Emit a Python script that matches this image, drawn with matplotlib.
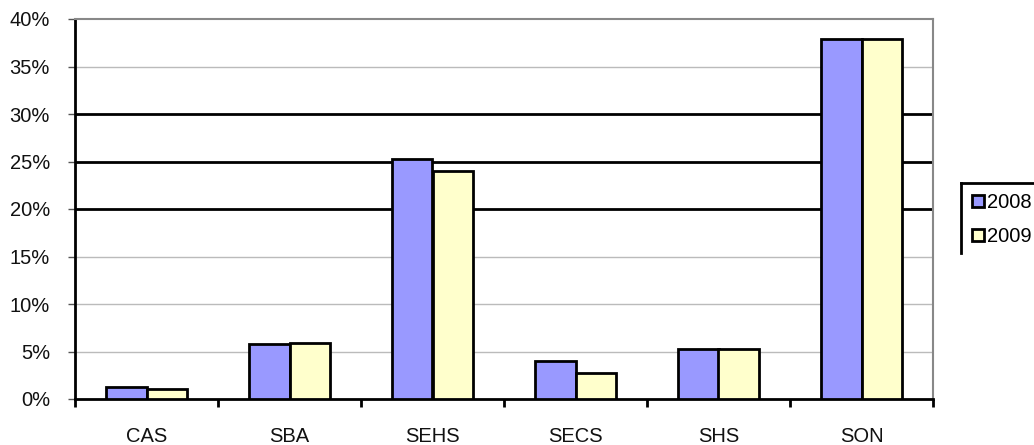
import numpy as np
import matplotlib.pyplot as plt
from matplotlib.lines import Line2D
from matplotlib.ticker import PercentFormatter

plt.rcParams['font.family'] = ['Liberation Sans', 'DejaVu Sans']

categories = ["CAS", "SBA", "SEHS", "SECS", "SHS", "SON"]
years = ["2008", "2009"]
vals_2008 = [1.3, 5.75, 25.25, 4.0, 5.3, 37.85]
vals_2009 = [1.05, 5.9, 24.0, 2.75, 5.3, 37.85]
colors = ["#9999FF", "#FFFFCC"]

fig = plt.figure(figsize=(10.34, 4.45), dpi=100)
ax = fig.add_axes([75 / 1034, 46 / 445, 858 / 1034, 380 / 445])

x = np.arange(len(categories))
w = 0.28
ax.bar(x - w / 2, vals_2008, w, color=colors[0], edgecolor="black", linewidth=2, zorder=3, label=years[0])
ax.bar(x + w / 2, vals_2009, w, color=colors[1], edgecolor="black", linewidth=2, zorder=3, label=years[1])

ax.set_xlim(-0.5, len(categories) - 0.5)
ax.set_ylim(0, 40)
ax.set_yticks(np.arange(0, 41, 5))
ax.yaxis.set_major_formatter(PercentFormatter(decimals=0))

# gridlines: some thin gray, some black (as in the source)
for v in [5, 10, 15, 35]:
    ax.axhline(v, color="#BBBBBB", linewidth=1, zorder=1)
for v in [20, 25, 30]:
    ax.axhline(v, color="black", linewidth=2, zorder=1)

ax.set_xticks(x)
ax.set_xticklabels(categories)
ax.tick_params(axis="x", length=0, pad=20, labelsize=14.5, labelcolor="#111111")
ax.set_xticks(np.arange(-0.5, len(categories)), minor=True)
ax.tick_params(axis="x", which="minor", length=6, width=2, color="black")
ax.tick_params(axis="y", length=5, width=1, color="#555555", pad=13, labelsize=14.5, labelcolor="#111111")

for s in ["top", "right"]:
    ax.spines[s].set_color("#888888")
    ax.spines[s].set_linewidth(1.5)
ax.spines["left"].set_color("black")
ax.spines["left"].set_linewidth(2)
ax.spines["bottom"].set_color("black")
ax.spines["bottom"].set_linewidth(2)

leg = fig.legend(loc="upper left", bbox_to_anchor=(972 / 1034, 1 - 193 / 445),
                 frameon=False, fontsize=14.5,
                 handlelength=0.6, handleheight=0.6, handletextpad=0.15,
                 borderpad=0, labelspacing=0.75, borderaxespad=0)
for h in leg.legend_handles:
    h.set_linewidth(2)

# legend box: only left and top edges are visible in the source
fig.add_artist(Line2D([961 / 1034, 961 / 1034], [1 - 253 / 445, 1 - 183 / 445],
                      transform=fig.transFigure, color="black", linewidth=2))
fig.add_artist(Line2D([961 / 1034, 1.0], [1 - 183 / 445, 1 - 183 / 445],
                      transform=fig.transFigure, color="black", linewidth=2))

fig.savefig("out.png", dpi=100)
